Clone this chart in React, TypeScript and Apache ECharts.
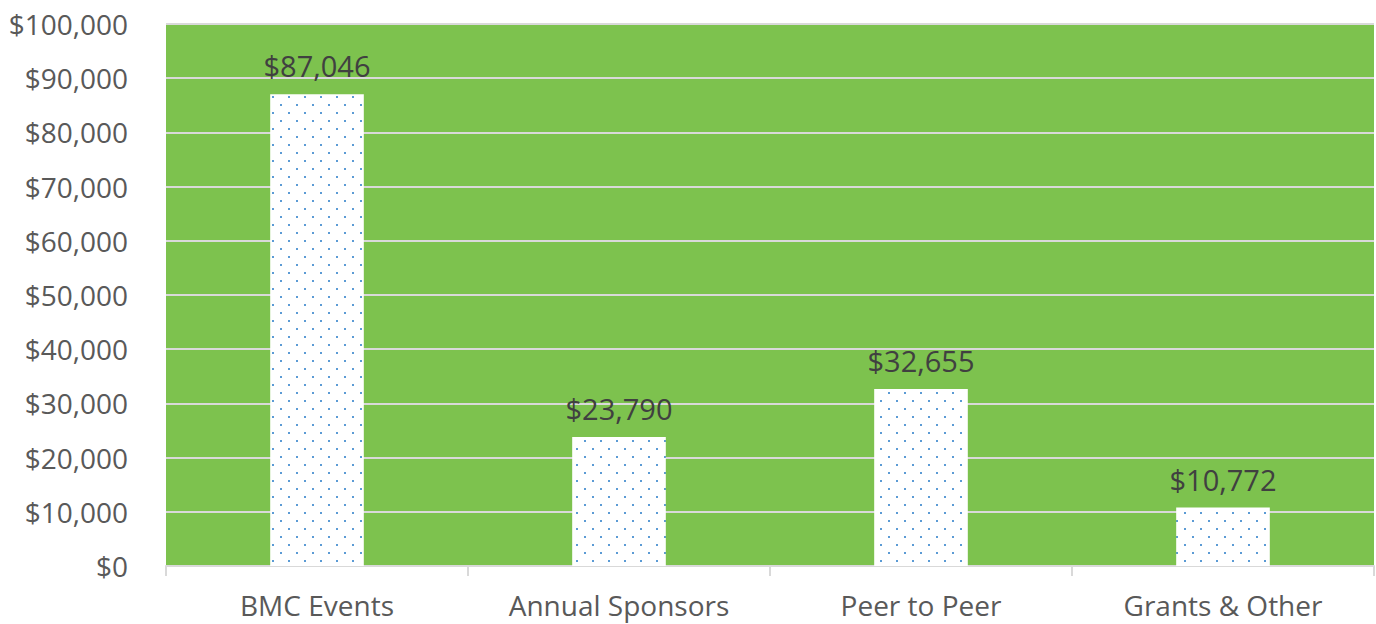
import React, { useEffect, useRef } from "react";
import * as echarts from "echarts";

const categories = ["BMC Events", "Annual Sponsors", "Peer to Peer", "Grants & Other"];
const values = [87046, 23790, 32655, 10772];
const yMin = 0;
const yMax = 100000;
const yInterval = 10000;

function fmt(v: number) {
  return "$" + v.toLocaleString("en-US");
}

function makePattern(): string {
  const c = document.createElement("canvas");
  c.width = 16;
  c.height = 16;
  const ctx = c.getContext("2d")!;
  ctx.fillStyle = "#ffffff";
  ctx.fillRect(0, 0, 16, 16);
  ctx.fillStyle = "#5b9bd5";
  ctx.fillRect(0, 0, 2, 2);
  ctx.fillRect(8, 8, 2, 2);
  return c.toDataURL();
}

export default function App() {
  const ref = useRef<HTMLDivElement>(null);
  useEffect(() => {
    const chart = echarts.init(ref.current!, undefined, { renderer: "svg" });
    const img = makePattern();
    chart.setOption({
      animation: false,
      grid: {
        left: 166,
        right: 2,
        top: 24,
        bottom: 58,
        show: true,
        backgroundColor: "#7dc24e",
        borderWidth: 0,
      },
      xAxis: {
        type: "category",
        data: categories,
        axisLine: { show: true, lineStyle: { color: "#d9d9d9", width: 2 } },
        axisTick: { show: true, length: 10, lineStyle: { color: "#d9d9d9", width: 2 } },
        axisLabel: {
          color: "#595959",
          fontFamily: "Open Sans",
          fontSize: 28,
          margin: 25,
        },
      },
      yAxis: {
        type: "value",
        min: yMin,
        max: yMax,
        interval: yInterval,
        axisLine: { show: false },
        axisTick: { show: false },
        splitLine: { show: true, lineStyle: { color: "#d9d9d9", width: 2 } },
        axisLabel: {
          color: "#595959",
          fontFamily: "Open Sans",
          fontSize: 28,
          margin: 38,
          formatter: (v: number) => fmt(v),
        },
      },
      series: [
        {
          type: "bar",
          data: values,
          barWidth: "31%",
          itemStyle: {
            color: { image: img, repeat: "repeat" },
          },
          label: {
            show: true,
            position: "top",
            distance: 14,
            color: "#404040",
            fontFamily: "Open Sans",
            fontSize: 29,
            formatter: (p: any) => fmt(p.value),
          },
        },
      ],
    });
    return () => chart.dispose();
  }, []);
  return <div ref={ref} style={{ width: 1376, height: 624, position: "absolute", left: 0, top: 0 }} />;
}
